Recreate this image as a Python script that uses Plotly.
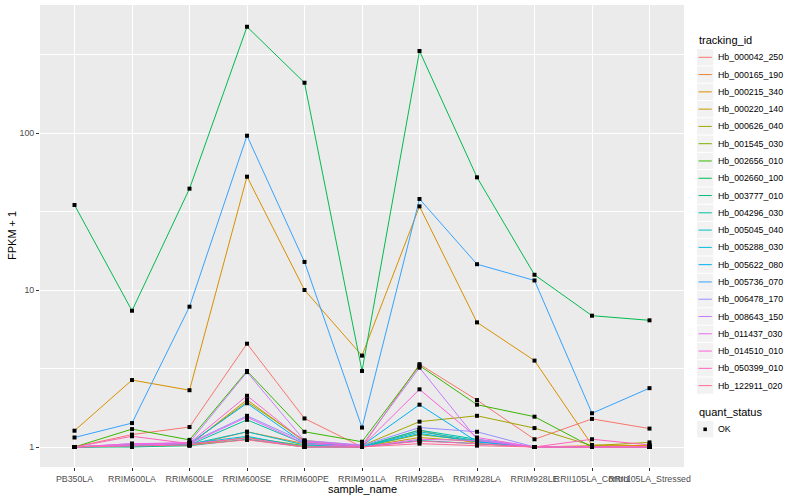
import plotly.graph_objects as go

samples = ["PB350LA", "RRIM600LA", "RRIM600LE", "RRIM600SE", "RRIM600PE", "RRIM901LA",
           "RRIM928BA", "RRIM928LA", "RRIM928LE", "RRII105LA_Control", "RRII105LA_Stressed"]

genes = ["Hb_000042_250", "Hb_000165_190", "Hb_000215_340", "Hb_000220_140", "Hb_000626_040",
         "Hb_001545_030", "Hb_002656_010", "Hb_002660_100", "Hb_003777_010", "Hb_004296_030",
         "Hb_005045_040", "Hb_005288_030", "Hb_005622_080", "Hb_005736_070", "Hb_006478_170",
         "Hb_008643_150", "Hb_011437_030", "Hb_014510_010", "Hb_050399_010", "Hb_122911_020"]

colors = ["#F8766D", "#EA8331", "#D89000", "#C09B00", "#A3A500", "#7CAE00", "#39B600", "#00BB4E",
          "#00BF7D", "#00C1A3", "#00BFC4", "#00BAE0", "#00B0F6", "#35A2FF", "#9590FF", "#C77CFF",
          "#E76BF3", "#FA62DB", "#FF62BC", "#FF6C91"]

# FPKM + 1 values, one list per gene (in sample order)
Hb_000042_250 = [1.00, 1.20, 1.34, 4.55, 1.52, 1.00, 3.37, 1.99, 1.12, 1.51, 1.31]
Hb_000165_190 = [1.00, 1.03, 1.02, 1.25, 1.05, 1.00, 1.28, 1.05, 1.00, 1.02, 1.01]
Hb_000215_340 = [1.27, 2.67, 2.30, 52.7, 10.0, 3.82, 34.1, 6.22, 3.55, 1.03, 1.02]
Hb_000220_140 = [1.00, 1.02, 1.03, 2.00, 1.08, 1.00, 1.15, 1.08, 1.00, 1.00, 1.00]
Hb_000626_040 = [1.00, 1.02, 1.04, 1.94, 1.10, 1.02, 1.45, 1.58, 1.32, 1.02, 1.07]
Hb_001545_030 = [1.00, 1.03, 1.03, 1.15, 1.02, 1.00, 1.20, 1.10, 1.00, 1.00, 1.00]
Hb_002656_010 = [1.00, 1.30, 1.11, 3.05, 1.25, 1.08, 3.30, 1.86, 1.56, 1.00, 1.00]
Hb_002660_100 = [34.8, 7.38, 44.2, 475.0, 209.0, 3.05, 333.0, 52.2, 12.5, 6.86, 6.41]
Hb_003777_010 = [1.00, 1.00, 1.02, 1.12, 1.00, 1.00, 1.10, 1.05, 1.00, 1.00, 1.00]
Hb_004296_030 = [1.00, 1.02, 1.03, 1.49, 1.05, 1.01, 1.28, 1.12, 1.00, 1.00, 1.00]
Hb_005045_040 = [1.00, 1.01, 1.04, 1.25, 1.03, 1.00, 1.25, 1.10, 1.00, 1.00, 1.00]
Hb_005288_030 = [1.00, 1.02, 1.05, 1.17, 1.00, 1.00, 1.22, 1.08, 1.00, 1.00, 1.00]
Hb_005622_080 = [1.00, 1.04, 1.05, 1.90, 1.05, 1.02, 1.86, 1.08, 1.00, 1.00, 1.00]
Hb_005736_070 = [1.15, 1.42, 7.83, 96.1, 15.1, 1.33, 38.0, 14.6, 11.5, 1.64, 2.37]
Hb_006478_170 = [1.00, 1.05, 1.06, 1.58, 1.08, 1.02, 1.33, 1.25, 1.00, 1.00, 1.00]
Hb_008643_150 = [1.00, 1.04, 1.07, 3.00, 1.10, 1.03, 3.20, 1.12, 1.00, 1.00, 1.00]
Hb_011437_030 = [1.00, 1.03, 1.05, 1.55, 1.05, 1.00, 1.12, 1.10, 1.00, 1.00, 1.00]
Hb_014510_010 = [1.00, 1.05, 1.06, 2.12, 1.08, 1.01, 2.33, 1.15, 1.00, 1.00, 1.00]
Hb_050399_010 = [1.00, 1.17, 1.05, 1.14, 1.00, 1.00, 1.09, 1.05, 1.00, 1.12, 1.03]
Hb_122911_020 = [1.00, 1.02, 1.03, 1.11, 1.00, 1.00, 1.05, 1.02, 1.00, 1.00, 1.00]

values = [Hb_000042_250, Hb_000165_190, Hb_000215_340, Hb_000220_140, Hb_000626_040,
          Hb_001545_030, Hb_002656_010, Hb_002660_100, Hb_003777_010, Hb_004296_030,
          Hb_005045_040, Hb_005288_030, Hb_005622_080, Hb_005736_070, Hb_006478_170,
          Hb_008643_150, Hb_011437_030, Hb_014510_010, Hb_050399_010, Hb_122911_020]

y_ticks = [1, 10, 100]
y_tick_labels = ["1", "10", "100"]
y_minor = [10 ** 0.5, 10 ** 1.5, 10 ** 2.5]

FONT = "Liberation Sans"
W, H = 800, 500
PL, PR, PT, PB = 40, 684, 5, 467  # panel pixel box

fig = go.Figure()
for g, c, v in zip(genes, colors, values):
    fig.add_trace(go.Scatter(x=samples, y=v, mode="lines", name=g,
                             line=dict(color=c, width=1), showlegend=False))
for g, v in zip(genes, values):
    fig.add_trace(go.Scatter(x=samples, y=v, mode="markers", name=g,
                             marker=dict(symbol="square", size=4, color="black"),
                             showlegend=False))

def px_x(p):
    return (p - PL) / (PR - PL)

def px_y(p):
    return (PB - p) / (PB - PT)

shapes = []
ann = []
# legend: tracking_id
lx0 = 697
ann.append(dict(x=px_x(lx0), y=px_y(40), xref="paper", yref="paper", text="tracking_id",
                showarrow=False, xanchor="left", yanchor="middle",
                font=dict(family=FONT, size=11, color="black")))
step = 17.28
for i, (g, c) in enumerate(zip(genes, colors)):
    cy = 57.3 + step * i
    shapes.append(dict(type="rect", xref="paper", yref="paper",
                       x0=px_x(lx0), x1=px_x(lx0 + 16.3), y0=px_y(cy - 8.1), y1=px_y(cy + 8.1),
                       fillcolor="#F2F2F2", line=dict(width=0), layer="above"))
    shapes.append(dict(type="line", xref="paper", yref="paper",
                       x0=px_x(lx0 + 1.5), x1=px_x(lx0 + 14.8), y0=px_y(cy), y1=px_y(cy),
                       line=dict(color=c, width=1), layer="above"))
    ann.append(dict(x=px_x(716), y=px_y(cy), xref="paper", yref="paper", text=g,
                    showarrow=False, xanchor="left", yanchor="middle",
                    font=dict(family=FONT, size=8.8, color="black")))
# legend: quant_status
ann.append(dict(x=px_x(lx0), y=px_y(411.5), xref="paper", yref="paper", text="quant_status",
                showarrow=False, xanchor="left", yanchor="middle",
                font=dict(family=FONT, size=11, color="black")))
cy = 429.3
shapes.append(dict(type="rect", xref="paper", yref="paper",
                   x0=px_x(lx0), x1=px_x(lx0 + 16.3), y0=px_y(cy - 8.1), y1=px_y(cy + 8.1),
                   fillcolor="#F2F2F2", line=dict(width=0), layer="above"))
shapes.append(dict(type="rect", xref="paper", yref="paper",
                   x0=px_x(lx0 + 6.4), x1=px_x(lx0 + 9.9), y0=px_y(cy - 1.8), y1=px_y(cy + 1.8),
                   fillcolor="black", line=dict(width=0), layer="above"))
ann.append(dict(x=px_x(716), y=px_y(cy), xref="paper", yref="paper", text="OK",
                showarrow=False, xanchor="left", yanchor="middle",
                font=dict(family=FONT, size=8.8, color="black")))
# axis titles
ann.append(dict(x=0.5, y=px_y(489), xref="paper", yref="paper", text="sample_name",
                showarrow=False, xanchor="center", yanchor="middle",
                font=dict(family=FONT, size=11, color="black")))
ann.append(dict(x=px_x(12), y=0.5, xref="paper", yref="paper", text="FPKM + 1",
                showarrow=False, xanchor="center", yanchor="middle", textangle=-90,
                font=dict(family=FONT, size=11, color="black")))

ppd = 157.0  # pixels per decade
ymin = -(PB - 447) / ppd
ymax = (447 - PT) / ppd

fig.update_layout(
    width=W, height=H,
    margin=dict(l=PL, r=W - PR, t=PT, b=H - PB, pad=0),
    paper_bgcolor="white", plot_bgcolor="#EBEBEB",
    font=dict(family=FONT, size=9, color="#4D4D4D"),
    shapes=shapes, annotations=ann,
    showlegend=False, hovermode=False,
    xaxis=dict(type="category", categoryorder="array", categoryarray=samples,
               range=[-0.6, len(samples) - 0.4], tickangle=0,
               showgrid=True, gridcolor="white", gridwidth=1.1,
               ticks="outside", ticklen=3, tickwidth=1, tickcolor="#333333",
               tickfont=dict(family=FONT, size=8.8, color="#4D4D4D"),
               zeroline=False, showline=False),
    yaxis=dict(type="log", range=[ymin, ymax],
               tickvals=y_ticks, ticktext=y_tick_labels,
               showgrid=True, gridcolor="white", gridwidth=1.1,
               ticks="outside", ticklen=3, tickwidth=1, tickcolor="#333333",
               tickfont=dict(family=FONT, size=8.8, color="#4D4D4D"),
               minor=dict(tickvals=y_minor, showgrid=True, gridcolor="white", gridwidth=0.55, ticks=""),
               zeroline=False, showline=False),
)

fig.write_html("out.html", config={"displayModeBar": False},
               post_script="document.body.style.margin='0px';document.body.style.padding='0px';")
